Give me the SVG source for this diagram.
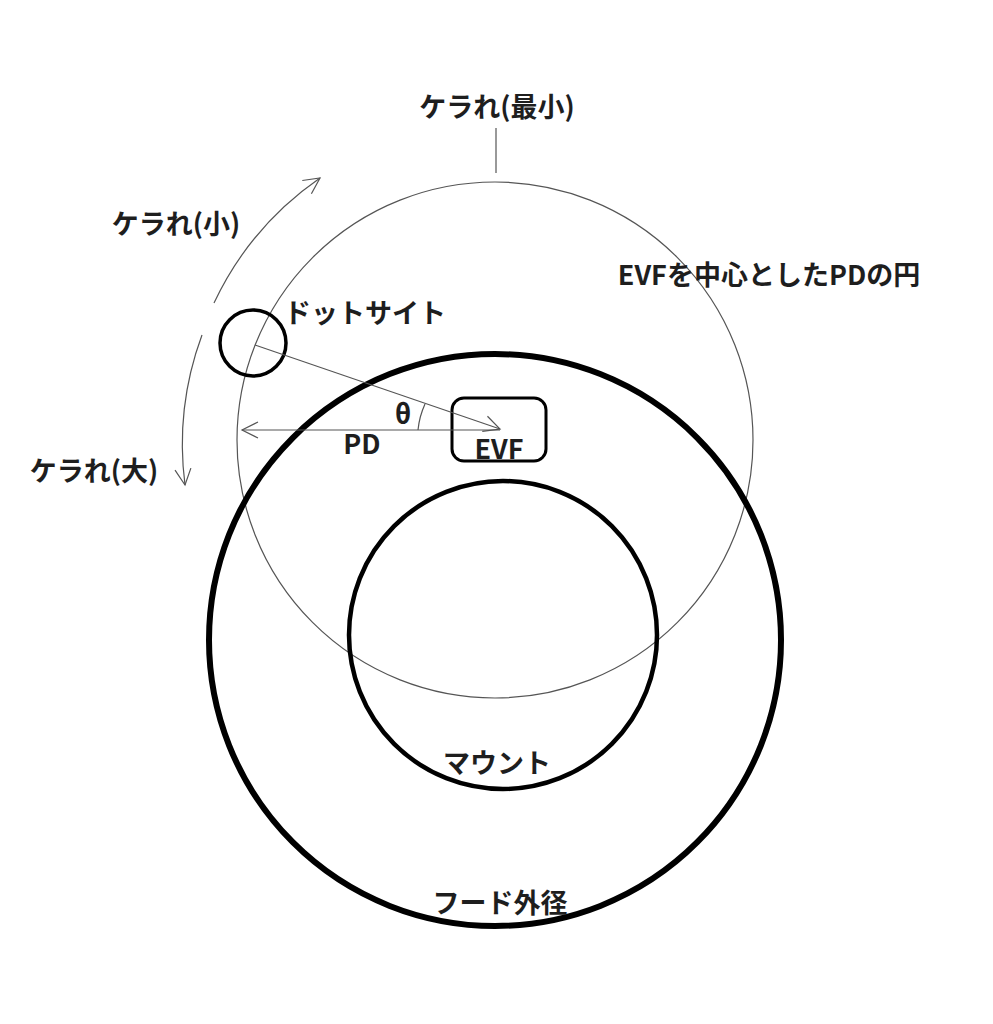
<svg xmlns="http://www.w3.org/2000/svg" width="993" height="1024" viewBox="0 0 993 1024">
<defs>
<style>
.t{font-family:"Noto Sans CJK JP","Noto Sans",sans-serif;font-weight:bold;font-size:27px;fill:#1e1e1e}
.thin{fill:none;stroke:#555;stroke-width:1.2}
</style>
<marker id="ah" viewBox="0 0 20 20" refX="18" refY="10" markerWidth="20" markerHeight="20" markerUnits="userSpaceOnUse" orient="auto">
<path d="M2,2 L18,10 L2,18" fill="none" stroke="#555" stroke-width="1.2"/>
</marker>
</defs>
<rect width="993" height="1024" fill="#fff"/>
<g id="pd-circle">
<circle class="thin" cx="495" cy="440" r="258"/>
<text class="t" x="769" y="285" text-anchor="middle">EVFを中心としたPDの円</text>
</g>
<g id="hood">
<circle cx="495" cy="640" r="286" fill="none" stroke="#000" stroke-width="6"/>
<text class="t" x="500" y="913" text-anchor="middle">フード外径</text>
</g>
<g id="mount">
<circle cx="503" cy="635" r="154" fill="none" stroke="#000" stroke-width="4.5"/>
<text class="t" x="497" y="773" text-anchor="middle">マウント</text>
</g>
<g id="dot-sight">
<circle cx="253" cy="343" r="33" fill="none" stroke="#000" stroke-width="3.5"/>
<text class="t" x="284" y="323">ドットサイト</text>
</g>
<g id="evf">
<rect x="452" y="398" width="94" height="63" rx="12" fill="none" stroke="#000" stroke-width="3"/>
<text class="t" x="499" y="459" text-anchor="middle">EVF</text>
</g>
<g id="labels">
<text class="t" x="497" y="117" text-anchor="middle">ケラれ(最小)</text>
<text class="t" x="176" y="234" text-anchor="middle">ケラれ(小)</text>
<text class="t" x="94" y="481" text-anchor="middle">ケラれ(大)</text>
<text class="t" x="403" y="424" text-anchor="middle">θ</text>
<text class="t" x="362" y="454" text-anchor="middle">PD</text>
</g>
<g id="connectors">
<line class="thin" x1="496" y1="128" x2="496" y2="173"/>
<line class="thin" x1="255" y1="345" x2="500" y2="429" marker-end="url(#ah)"/>
<line class="thin" x1="500" y1="430" x2="242" y2="430" marker-end="url(#ah)"/>
<path class="thin" d="M418,430 A82,82 0 0 1 425,404"/>
<path class="thin" d="M214,303 A316,316 0 0 1 320,178" marker-end="url(#ah)"/>
<path class="thin" d="M202,335 A316,316 0 0 0 185,485" marker-end="url(#ah)"/>
</g>
</svg>
